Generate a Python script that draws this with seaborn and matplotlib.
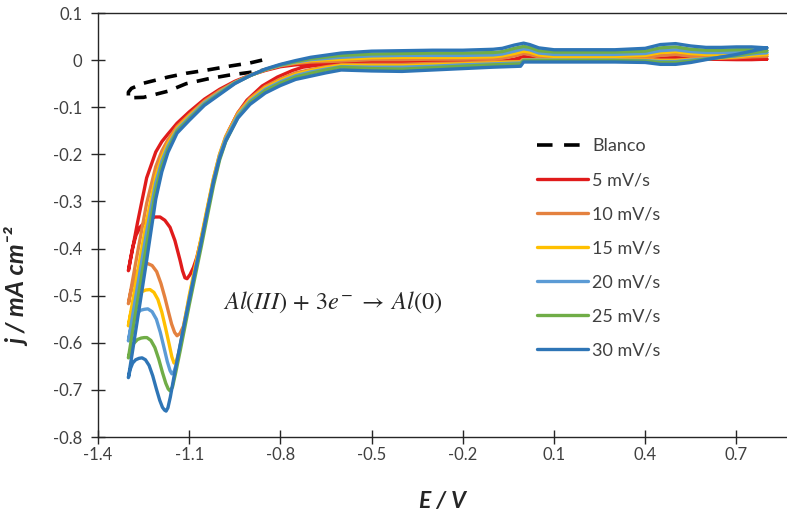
import matplotlib
matplotlib.use("Agg")
import matplotlib.pyplot as plt
from matplotlib.lines import Line2D
import seaborn as sns
import pandas as pd

# ---------------- data ----------------
rates = ["5 mV/s", "10 mV/s", "15 mV/s", "20 mV/s", "25 mV/s", "30 mV/s"]
colors = ["#E01B1B", "#E4813F", "#FFC000", "#5B9BD5", "#70AD47", "#2E75B6"]

# upper edge of each voltammogram (0.8 V -> -0.6 V)
e_top = [0.80, 0.75, 0.70, 0.65, 0.60, 0.55, 0.50, 0.45, 0.40, 0.30, 0.20, 0.10,
         0.05, 0.02, 0.00, -0.03, -0.07, -0.10, -0.20, -0.30, -0.40, -0.50, -0.60]
j_top_5 = [0.002, 0.002, 0.002, 0.002, 0.002, 0.003, 0.005, 0.004, 0.000, -0.001, -0.001, -0.001,
           0.001, 0.006, 0.008, 0.002, -0.002, -0.003, -0.003, -0.003, -0.004, -0.004, -0.006]
j_top_10 = [0.008, 0.008, 0.008, 0.007, 0.007, 0.009, 0.012, 0.010, 0.005, 0.004, 0.004, 0.004,
            0.007, 0.012, 0.014, 0.009, 0.004, 0.003, 0.002, 0.002, 0.001, 0.001, -0.002]
j_top_15 = [0.012, 0.013, 0.013, 0.012, 0.012, 0.014, 0.018, 0.016, 0.010, 0.008, 0.008, 0.008,
            0.011, 0.017, 0.019, 0.014, 0.009, 0.007, 0.006, 0.006, 0.006, 0.005, 0.002]
j_top_20 = [0.016, 0.017, 0.017, 0.016, 0.016, 0.018, 0.022, 0.020, 0.014, 0.012, 0.012, 0.012,
            0.015, 0.022, 0.024, 0.019, 0.013, 0.011, 0.010, 0.010, 0.010, 0.009, 0.006]
j_top_25 = [0.020, 0.022, 0.022, 0.021, 0.021, 0.023, 0.028, 0.026, 0.019, 0.017, 0.017, 0.017,
            0.020, 0.027, 0.029, 0.025, 0.018, 0.016, 0.015, 0.015, 0.014, 0.013, 0.010]
j_top_30 = [0.026, 0.028, 0.028, 0.027, 0.027, 0.030, 0.035, 0.033, 0.025, 0.022, 0.022, 0.022,
            0.026, 0.033, 0.036, 0.032, 0.025, 0.023, 0.021, 0.021, 0.020, 0.019, 0.015]

# cathodic sweep down to the vertex (-0.7 V -> -1.3 V)
e_fwd = [-0.70, -0.75, -0.80, -0.85, -0.90, -0.95, -1.00, -1.05, -1.10, -1.14, -1.17,
         -1.19, -1.21, -1.24, -1.27, -1.30]
j_fwd_5 = [-0.008, -0.010, -0.014, -0.022, -0.032, -0.045, -0.062, -0.083, -0.110, -0.134,
           -0.157, -0.173, -0.195, -0.250, -0.345, -0.447]
j_fwd_10 = [-0.004, -0.007, -0.012, -0.021, -0.032, -0.047, -0.065, -0.087, -0.116, -0.141,
            -0.169, -0.193, -0.226, -0.304, -0.409, -0.517]
j_fwd_15 = [-0.001, -0.005, -0.011, -0.020, -0.033, -0.048, -0.068, -0.090, -0.119, -0.145,
            -0.177, -0.206, -0.247, -0.341, -0.452, -0.564]
j_fwd_20 = [0.001, -0.004, -0.011, -0.020, -0.033, -0.048, -0.069, -0.091, -0.122, -0.148,
            -0.183, -0.215, -0.261, -0.365, -0.480, -0.596]
j_fwd_25 = [0.003, -0.003, -0.010, -0.020, -0.033, -0.049, -0.071, -0.094, -0.125, -0.151,
            -0.189, -0.225, -0.276, -0.392, -0.511, -0.632]
j_fwd_30 = [0.006, -0.001, -0.009, -0.019, -0.033, -0.050, -0.073, -0.096, -0.128, -0.155,
            -0.196, -0.237, -0.295, -0.425, -0.550, -0.674]

# reverse sweep through the Al deposition peak (-1.3 V -> -0.6 V)
e_rev_5 = [-1.300, -1.294, -1.286, -1.275, -1.262, -1.245, -1.229, -1.212, -1.196, -1.180, -1.163,
           -1.147, -1.130, -1.122, -1.114, -1.107, -1.097, -1.086, -1.075, -1.054, -1.030, -1.000,
           -0.970, -0.940, -0.910, -0.860, -0.810, -0.760, -0.726, -0.680, -0.600]
j_rev_5 = [-0.447, -0.425, -0.398, -0.372, -0.355, -0.343, -0.337, -0.333, -0.333, -0.340, -0.355,
           -0.383, -0.425, -0.447, -0.462, -0.464, -0.455, -0.440, -0.419, -0.362, -0.285, -0.205,
           -0.150, -0.112, -0.085, -0.055, -0.036, -0.022, -0.015, -0.011, -0.008]
e_rev_10 = [-1.300, -1.294, -1.285, -1.274, -1.262, -1.249, -1.236, -1.222, -1.207, -1.193, -1.180,
            -1.168, -1.158, -1.148, -1.140, -1.130, -1.119, -1.100, -1.060, -1.040, -1.020, -1.000,
            -0.980, -0.940, -0.900, -0.850, -0.800, -0.750, -0.700, -0.650, -0.600]
j_rev_10 = [-0.517, -0.497, -0.474, -0.452, -0.440, -0.434, -0.432, -0.436, -0.449, -0.474, -0.504,
            -0.535, -0.560, -0.578, -0.585, -0.580, -0.565, -0.505, -0.380, -0.315, -0.252, -0.200,
            -0.162, -0.112, -0.081, -0.056, -0.040, -0.027, -0.020, -0.014, -0.010]
e_rev_15 = [-1.300, -1.293, -1.283, -1.270, -1.258, -1.243, -1.229, -1.216, -1.203, -1.190, -1.178,
            -1.166, -1.157, -1.150, -1.142, -1.133, -1.125, -1.100, -1.060, -1.040, -1.020, -1.000,
            -0.980, -0.940, -0.900, -0.850, -0.800, -0.750, -0.700, -0.650, -0.600]
j_rev_15 = [-0.564, -0.540, -0.518, -0.500, -0.492, -0.488, -0.487, -0.493, -0.508, -0.535, -0.568,
            -0.603, -0.630, -0.643, -0.638, -0.618, -0.590, -0.500, -0.375, -0.312, -0.250, -0.200,
            -0.164, -0.115, -0.084, -0.059, -0.043, -0.030, -0.022, -0.016, -0.011]
e_rev_20 = [-1.300, -1.293, -1.283, -1.272, -1.260, -1.248, -1.236, -1.222, -1.208, -1.195, -1.183,
            -1.172, -1.163, -1.157, -1.149, -1.140, -1.130, -1.100, -1.060, -1.040, -1.020, -1.000,
            -0.980, -0.940, -0.900, -0.850, -0.800, -0.750, -0.700, -0.650, -0.600]
j_rev_20 = [-0.596, -0.572, -0.552, -0.538, -0.531, -0.529, -0.528, -0.534, -0.550, -0.578, -0.610,
            -0.640, -0.659, -0.666, -0.660, -0.640, -0.608, -0.508, -0.385, -0.320, -0.256, -0.204,
            -0.167, -0.118, -0.087, -0.062, -0.046, -0.033, -0.025, -0.019, -0.014]
e_rev_25 = [-1.300, -1.292, -1.282, -1.270, -1.258, -1.248, -1.239, -1.226, -1.213, -1.200, -1.188,
            -1.177, -1.169, -1.163, -1.155, -1.145, -1.130, -1.100, -1.060, -1.040, -1.020, -1.000,
            -0.980, -0.940, -0.900, -0.850, -0.800, -0.750, -0.700, -0.650, -0.600]
j_rev_25 = [-0.632, -0.614, -0.601, -0.593, -0.590, -0.589, -0.589, -0.595, -0.610, -0.635, -0.663,
            -0.686, -0.698, -0.702, -0.694, -0.665, -0.618, -0.520, -0.395, -0.330, -0.266, -0.212,
            -0.173, -0.122, -0.090, -0.065, -0.049, -0.036, -0.028, -0.021, -0.015]
e_rev_30 = [-1.300, -1.294, -1.286, -1.276, -1.265, -1.255, -1.244, -1.232, -1.220, -1.208, -1.197,
            -1.188, -1.181, -1.176, -1.170, -1.162, -1.150, -1.130, -1.100, -1.060, -1.040, -1.020,
            -1.000, -0.980, -0.940, -0.900, -0.850, -0.800, -0.750, -0.700, -0.650, -0.600]
j_rev_30 = [-0.674, -0.656, -0.643, -0.636, -0.633, -0.632, -0.636, -0.648, -0.670, -0.698, -0.722,
            -0.737, -0.743, -0.745, -0.738, -0.715, -0.672, -0.605, -0.510, -0.385, -0.320, -0.258,
            -0.208, -0.172, -0.123, -0.094, -0.070, -0.054, -0.041, -0.034, -0.027, -0.021]

# lower edge back to the anodic limit (-0.6 V -> 0.8 V)
e_bot = [-0.60, -0.50, -0.40, -0.30, -0.20, -0.10, -0.01, 0.00, 0.10, 0.20, 0.30, 0.40,
         0.45, 0.50, 0.55, 0.60, 0.70, 0.75, 0.80]
j_bot_5 = [-0.008, -0.006, -0.006, -0.005, -0.004, -0.003, -0.002, 0.000, 0.000, 0.000, 0.000, 0.000,
           0.003, 0.004, 0.003, 0.002, 0.001, 0.001, 0.002]
j_bot_10 = [-0.010, -0.009, -0.009, -0.007, -0.006, -0.004, -0.003, 0.001, 0.001, 0.001, 0.001, 0.001,
            0.000, 0.000, 0.002, 0.003, 0.005, 0.007, 0.008]
j_bot_15 = [-0.011, -0.012, -0.012, -0.010, -0.008, -0.006, -0.004, 0.001, 0.001, 0.001, 0.001, 0.000,
            -0.001, -0.001, 0.001, 0.003, 0.007, 0.010, 0.012]
j_bot_20 = [-0.014, -0.015, -0.015, -0.013, -0.010, -0.008, -0.006, 0.000, 0.000, 0.000, 0.000, -0.001,
            -0.003, -0.003, 0.000, 0.003, 0.009, 0.013, 0.016]
j_bot_25 = [-0.015, -0.018, -0.019, -0.016, -0.013, -0.010, -0.008, -0.001, -0.001, -0.001, -0.001, -0.002,
            -0.005, -0.005, -0.002, 0.002, 0.010, 0.015, 0.020]
j_bot_30 = [-0.021, -0.023, -0.024, -0.021, -0.018, -0.015, -0.013, -0.004, -0.004, -0.004, -0.004, -0.005,
            -0.009, -0.009, -0.005, 0.001, 0.012, 0.019, 0.026]

# blank electrolyte
e_blanco = [-0.86, -0.90, -0.96, -1.04, -1.11, -1.17, -1.25, -1.29, -1.30,
            -1.30, -1.295, -1.25, -1.17, -1.11, -1.04, -0.97, -0.90, -0.85]
j_blanco = [0.000, -0.006, -0.012, -0.021, -0.028, -0.036, -0.049, -0.060, -0.068,
            -0.082, -0.080, -0.079, -0.066, -0.050, -0.040, -0.032, -0.026, -0.021]

x_ticks = [-1.4, -1.1, -0.8, -0.5, -0.2, 0.1, 0.4, 0.7]
x_tick_labels = ["-1.4", "-1.1", "-0.8", "-0.5", "-0.2", "0.1", "0.4", "0.7"]
y_ticks = [0.1, 0.0, -0.1, -0.2, -0.3, -0.4, -0.5, -0.6, -0.7, -0.8]
y_tick_labels = ["0.1", "0", "-0.1", "-0.2", "-0.3", "-0.4", "-0.5", "-0.6", "-0.7", "-0.8"]

# ---------------- assemble closed loops ----------------
segments = {
    "5 mV/s": (j_top_5, j_fwd_5, e_rev_5, j_rev_5, j_bot_5),
    "10 mV/s": (j_top_10, j_fwd_10, e_rev_10, j_rev_10, j_bot_10),
    "15 mV/s": (j_top_15, j_fwd_15, e_rev_15, j_rev_15, j_bot_15),
    "20 mV/s": (j_top_20, j_fwd_20, e_rev_20, j_rev_20, j_bot_20),
    "25 mV/s": (j_top_25, j_fwd_25, e_rev_25, j_rev_25, j_bot_25),
    "30 mV/s": (j_top_30, j_fwd_30, e_rev_30, j_rev_30, j_bot_30),
}
frames = []
for rate in rates:
    jt, jf, er, jr, jb = segments[rate]
    E = e_top + e_fwd + er + e_bot
    J = jt + jf + jr + jb
    frames.append(pd.DataFrame({"E": E, "j": J, "rate": rate}))
cv = pd.concat(frames, ignore_index=True)

# ---------------- style ----------------
sns.set_theme(style="white")
plt.rcParams["font.family"] = ["Lato", "DejaVu Sans"]
plt.rcParams["axes.unicode_minus"] = False
plt.rcParams["mathtext.fontset"] = "stix"

fig = plt.figure(figsize=(7.87, 5.16), dpi=100)
ax = fig.add_axes([98 / 787, 1 - 437 / 516, 689 / 787, 424 / 516])

lw = 2.4
sns.lineplot(x=e_blanco, y=j_blanco, sort=False, estimator=None, color="black",
             lw=2.6, linestyle=(0, (3.4, 2.6)), ax=ax, legend=False)
sns.lineplot(data=cv, x="E", y="j", hue="rate", hue_order=rates, palette=colors,
             sort=False, estimator=None, lw=lw, ax=ax, legend=False,
             solid_joinstyle="round", solid_capstyle="round")

ax.set_xlim(-1.4, -1.4 + 689 / 304)
ax.set_ylim(-0.8, 0.1)
ax.set_xticks(x_ticks)
ax.set_xticklabels(x_tick_labels)
ax.set_yticks(y_ticks)
ax.set_yticklabels(y_tick_labels)

axis_col = "#262626"
for side in ["left", "bottom", "top"]:
    ax.spines[side].set_visible(True)
    ax.spines[side].set_color(axis_col)
    ax.spines[side].set_linewidth(1.0)
ax.spines["right"].set_visible(False)
ax.tick_params(axis="both", which="major", direction="inout", length=10.5, width=1.0,
               color=axis_col, labelsize=12, labelcolor="#404040")
ax.tick_params(axis="y", pad=6, left=True)
ax.tick_params(axis="x", pad=2, bottom=True)
ax.grid(False)

ax.set_xlabel("E / V", fontsize=16.5, fontweight="bold", fontstyle="italic", color="#262626")
ax.set_ylabel("j / mA cm⁻²", fontsize=18, fontweight="bold", fontstyle="italic", color="#262626")
ax.xaxis.set_label_coords(0.5, -(491 - 437) / 424)
ax.yaxis.set_label_coords((30 - 98) / 689, (437 - 287) / 424)

ax.text(-0.99, -0.515, r"$Al(III)\,+\,3e^{-}\;\rightarrow\;Al(0)$", fontsize=17.5,
        color="#262626", ha="left", va="center")

# legend
handles = [Line2D([], [], color="black", lw=2.6, linestyle=(0, (4.3, 3.2)))]
handles += [Line2D([], [], color=c, lw=lw) for c in colors]
labels = ["Blanco"] + rates
ax.legend(handles, labels, loc="upper left", bbox_to_anchor=(537 / 787, 1 - 138 / 516),
          bbox_transform=fig.transFigure, frameon=False, fontsize=13, labelcolor="#404040",
          handlelength=2.83, handletextpad=0.22, labelspacing=1.0, borderpad=0,
          borderaxespad=0)

fig.savefig("out.png", dpi=100)
